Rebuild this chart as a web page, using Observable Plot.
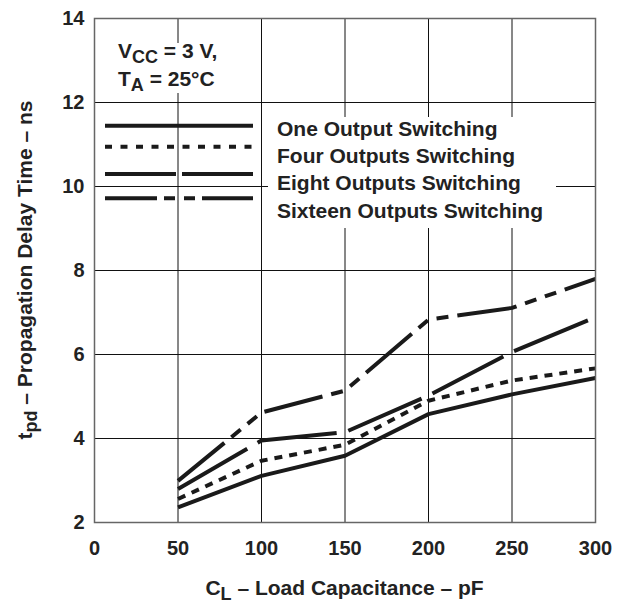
<!DOCTYPE html>
<html><head><meta charset="utf-8">
<script src="https://cdn.jsdelivr.net/npm/d3@7"></script>
<script src="https://cdn.jsdelivr.net/npm/@observablehq/plot@0.6"></script>
<style>
body{margin:0;background:#fff;}
#chart{position:relative;width:629px;height:603px;}
</style>
</head><body><div id="chart"></div>
<script>
// ---- data ----
const capacitance = [50, 100, 150, 200, 250, 300];
const oneOutput = [2.36, 3.11, 3.59, 4.58, 5.05, 5.44];
const fourOutputs = [2.56, 3.47, 3.85, 4.90, 5.38, 5.67];
const eightOutputs = [2.80, 3.95, 4.15, 5.02, 6.06, 6.89];
const sixteenOutputs = [2.99, 4.62, 5.14, 6.83, 7.11, 7.80];
const seriesNames = ["One Output Switching", "Four Outputs Switching", "Eight Outputs Switching", "Sixteen Outputs Switching"];
const xTicks = [0, 50, 100, 150, 200, 250, 300];
const yTicks = [2, 4, 6, 8, 10, 12, 14];

// ---- styles ----
const dashes = [null, "8,7", "80,12", "60,9,12,9,12,9"];
const legendDashes = [null, "7,8.5", "71,6", "52,7,11,9,11,7"];
const ink = "#222";
const font = "'Liberation Sans', Arial, sans-serif";

const allValues = [oneOutput, fourOutputs, eightOutputs, sixteenOutputs];
const series = allValues.map((vals, i) => capacitance.map((c, j) => ({c, t: vals[j], s: seriesNames[i]})));

const W = 629, H = 603;
const mL = 94, mR = 34, mT = 18, mB = 81;

const lineMarks = series.map((d, i) => Plot.line(d, {
  x: "c", y: "t", stroke: "#1a1a1a", strokeWidth: 4,
  strokeDasharray: dashes[i] || undefined, strokeLinecap: "butt", strokeLinejoin: "round"
}));

const chart = Plot.plot({
  width: W, height: H,
  marginLeft: mL, marginRight: mR, marginTop: mT, marginBottom: mB,
  style: {fontFamily: font, background: "#fff", color: ink},
  x: {domain: [0, 300], ticks: xTicks, label: null},
  y: {domain: [2, 14], ticks: yTicks, label: null},
  marks: [
    Plot.gridX(xTicks, {stroke: "#111", strokeOpacity: 1, strokeWidth: 1}),
    Plot.gridY(yTicks, {stroke: "#111", strokeOpacity: 1, strokeWidth: 1}),
    ...lineMarks,
    Plot.frame({stroke: "#666", strokeWidth: 1.5}),
    Plot.axisX(xTicks, {tickSize: 0, tickPadding: 18, fontSize: 20, fontWeight: "bold", fill: ink, label: null}),
    Plot.axisY(yTicks, {tickSize: 0, tickPadding: 10, fontSize: 20, fontWeight: "bold", fill: ink, label: null})
  ]
});
document.getElementById("chart").appendChild(chart);

const svg = d3.select(chart);
const NS = "http://www.w3.org/2000/svg";

// white backgrounds behind annotation text (hide grid lines)
const firstLine = chart.querySelector('[aria-label="line"]');
const bg = document.createElementNS(NS, "g");
chart.insertBefore(bg, firstLine);
const bgSel = d3.select(bg);
bgSel.append("rect").attr("x", 112).attr("y", 43).attr("width", 120).attr("height", 50).attr("fill", "#fff");
bgSel.append("rect").attr("x", 268).attr("y", 117).attr("width", 288).attr("height", 111).attr("fill", "#fff");

// conditions text
const ann = svg.append("g").attr("font-family", font).attr("font-weight", "bold").attr("fill", ink)
  .attr("font-size", 21).attr("text-anchor", "start");
const t1 = ann.append("text").attr("x", 118).attr("y", 58);
t1.append("tspan").text("V");
t1.append("tspan").attr("font-size", 18).attr("dy", 5).text("CC");
t1.append("tspan").attr("dy", -5).text(" = 3 V,");
const t2 = ann.append("text").attr("x", 118).attr("y", 86);
t2.append("tspan").text("T");
t2.append("tspan").attr("font-size", 18).attr("dy", 5).text("A");
t2.append("tspan").attr("dy", -5).text(" = 25°C");

// legend
const legY = [125.7, 146.7, 174, 198.3];
const labY = [136, 163, 190, 218];
seriesNames.forEach((name, i) => {
  const l = ann.append("line").attr("x1", 105).attr("x2", 253).attr("y1", legY[i]).attr("y2", legY[i])
    .attr("stroke", "#1a1a1a").attr("stroke-width", 4);
  if (legendDashes[i]) l.attr("stroke-dasharray", legendDashes[i]);
  ann.append("text").attr("x", 277).attr("y", labY[i]).text(name);
});

// axis titles
const xt = ann.append("text").attr("x", (mL + W - mR) / 2).attr("y", 595).attr("text-anchor", "middle");
xt.append("tspan").text("C");
xt.append("tspan").attr("font-size", 18).attr("dy", 5).text("L");
xt.append("tspan").attr("dy", -5).text(" – Load Capacitance – pF");

const yt = ann.append("text").attr("transform", `translate(32,${(mT + H - mB) / 2}) rotate(-90)`).attr("text-anchor", "middle");
yt.append("tspan").text("t");
yt.append("tspan").attr("font-size", 18).attr("dy", 5).text("pd");
yt.append("tspan").attr("dy", -5).text(" – Propagation Delay Time – ns");
</script>
</body></html>
